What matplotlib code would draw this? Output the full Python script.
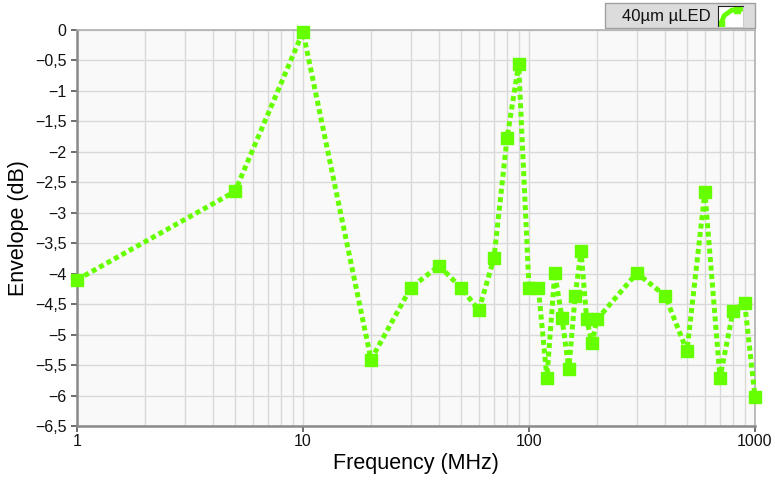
#!/usr/bin/env python

import numpy as np
import matplotlib
matplotlib.use('Agg')
import matplotlib.pyplot as plt
from matplotlib.ticker import FixedLocator, FuncFormatter
from matplotlib.patches import Rectangle

# Envelope response
freq_mhz = [1, 5, 10, 20, 30, 40, 50, 60, 70, 80, 90, 100, 110, 120, 130,
            140, 150, 160, 170, 180, 190, 200, 300, 400, 500, 600, 700,
            800, 900, 1000]
envelope_db = [-4.1, -2.65, -0.03, -5.41, -4.23, -3.87, -4.23, -4.6, -3.74,
               -1.77, -0.56, -4.23, -4.23, -5.71, -3.99, -4.73, -5.57, -4.36,
               -3.63, -4.75, -5.14, -4.75, -3.99, -4.36, -5.27, -2.66, -5.71,
               -4.61, -4.48, -6.02]
y_ticks = np.arange(0, -6.51, -0.5)
x_ticks = [1, 10, 100, 1000]
legend_label = '40\u00b5m \u00b5LED'

green = '#66ff00'

plt.rcParams['font.family'] = ['Liberation Sans', 'DejaVu Sans']

fig = plt.figure(figsize=(7.75, 4.8), dpi=100)
ax = fig.add_axes([77 / 775, 1 - 426 / 480, (755 - 77) / 775, (426 - 30) / 480])
ax.set_facecolor('#f9f9f9')

ax.plot(freq_mhz, envelope_db, color=green, lw=3.6, ls=(0, (1.0, 0.7)),
        marker='s', ms=8, mfc=green, mec=green, zorder=3, clip_on=False)

ax.set_xscale('log')
ax.set_xlim(1, 1000)
ax.set_ylim(-6.5, 0)

ax.xaxis.set_major_locator(FixedLocator(x_ticks))
ax.xaxis.set_major_formatter(FuncFormatter(lambda v, p: '%d' % v))
minor = [m * 10 ** d for d in range(3) for m in range(2, 10)]
ax.xaxis.set_minor_locator(FixedLocator(minor))
ax.xaxis.set_minor_formatter(FuncFormatter(lambda v, p: ''))

ax.yaxis.set_major_locator(FixedLocator(y_ticks))
ax.yaxis.set_major_formatter(
    FuncFormatter(lambda v, p: ('%g' % v).replace('.', ',').replace('-', '\u2212')))

ax.grid(True, which='both', color='#d9d9d9', lw=1.0, zorder=0)
ax.set_axisbelow(True)

for side in ['left', 'bottom']:
    ax.spines[side].set_color('#8a8a8a')
    ax.spines[side].set_linewidth(1.8)
for side in ['top', 'right']:
    ax.spines[side].set_color('#b0b0b0')
    ax.spines[side].set_linewidth(1.2)

ax.tick_params(which='major', direction='out', length=4, width=1.2,
               color='#555555', labelsize=11.5, labelcolor='#111111')
ax.tick_params(which='minor', length=0)
ax.tick_params(axis='x', pad=2)

ax.set_xlabel('Frequency (MHz)', fontsize=15.5, labelpad=3)
ax.set_ylabel('Envelope (dB)', fontsize=15.5, labelpad=4)

# Legend box at the top right, as in the original
box = Rectangle((605 / 775, 1 - 28 / 480), 150 / 775, 25 / 480,
                transform=fig.transFigure, facecolor='#dcdcdc',
                edgecolor='#a0a0a0', lw=1.0, zorder=-1)
fig.patches.append(box)
fig.text(622 / 775, 1 - 16 / 480, legend_label, fontsize=12, va='center',
         ha='left', color='#111111')
icon = fig.add_axes([718 / 775, 1 - 27 / 480, 25 / 775, 21 / 480])
icon.set_zorder(5)
icon.set_facecolor('white')
icon.plot([0.1, 0.25, 0.55, 0.9], [0.1, 0.55, 0.8, 0.85], color=green, lw=3.5)
icon.plot([0.1], [0.15], 's', color=green, ms=5)
icon.plot([0.75], [0.8], 's', color=green, ms=5)
icon.set_xlim(0, 1)
icon.set_ylim(0, 1)
icon.set_xticks([])
icon.set_yticks([])
for side in ['left', 'top']:
    icon.spines[side].set_color('#222222')
for side in ['right', 'bottom']:
    icon.spines[side].set_color('#cccccc')

fig.savefig('out.png', dpi=100)
